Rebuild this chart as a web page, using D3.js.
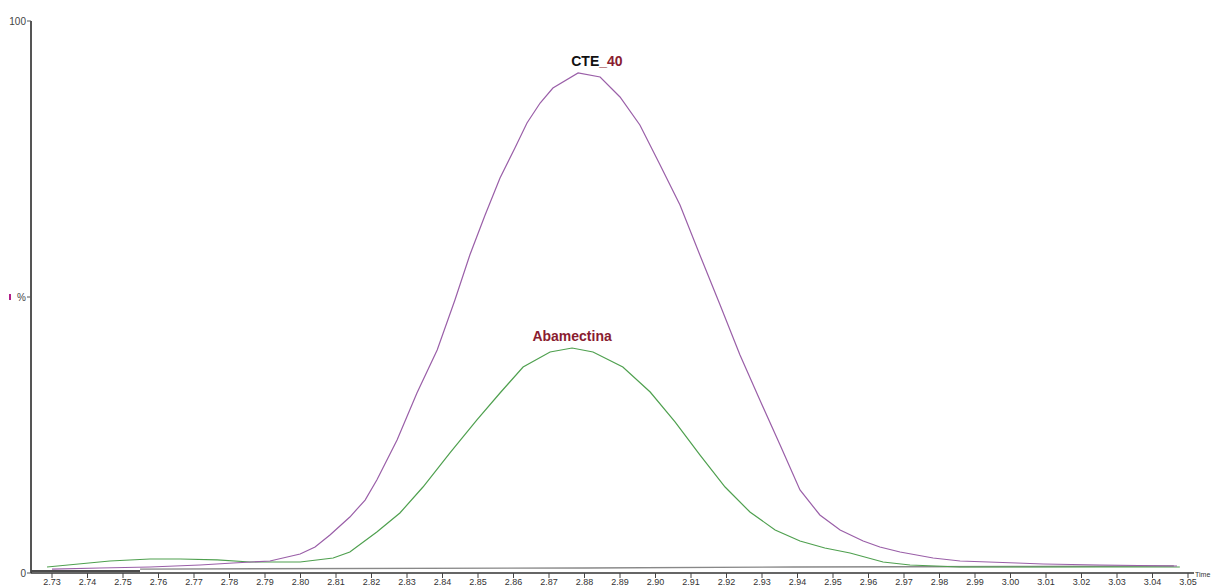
<!DOCTYPE html>
<html>
<head>
<meta charset="utf-8">
<script src="https://cdn.jsdelivr.net/npm/d3@7"></script>
<style>
  html, body { margin: 0; padding: 0; background: #fff; }
  svg { display: block; font-family: "Liberation Sans", Arial, sans-serif; }
</style>
</head>
<body>
<svg id="chart" width="1211" height="586"></svg>
<script>
// Retention time (min) and relative intensity (%) for each trace
const cteTime = [2.730, 2.7435, 2.7576, 2.7717, 2.7810, 2.7914, 2.7999, 2.8041, 2.8083, 2.8139,
  2.8182, 2.8215, 2.8272, 2.8328, 2.8385, 2.8435, 2.8477, 2.8520, 2.8562, 2.8604, 2.8638, 2.8675,
  2.8711, 2.8782, 2.8844, 2.8900, 2.8956, 2.9013, 2.9069, 2.9125, 2.9182, 2.9238, 2.9294, 2.9351,
  2.9407, 2.9463, 2.9520, 2.9585, 2.9632, 2.9689, 2.9782, 2.9858, 3.0018, 3.0092, 3.0252, 3.0469];
const cteValue = [0.72, 0.91, 1.09, 1.45, 1.81, 2.17, 3.44, 4.71, 6.88, 10.14,
  13.22, 16.85, 24.09, 32.61, 40.40, 49.46, 57.61, 64.86, 71.56, 76.99, 81.52, 85.14,
  87.86, 90.58, 89.86, 86.23, 81.16, 73.91, 66.67, 57.61, 48.55, 39.49, 31.34, 23.19,
  15.04, 10.51, 7.79, 5.80, 4.71, 3.80, 2.72, 2.17, 1.81, 1.63, 1.45, 1.27];

const abaTime = [2.7286, 2.7463, 2.7576, 2.7661, 2.7765, 2.7858, 2.7999, 2.8092, 2.8139, 2.8215,
  2.8280, 2.8345, 2.8421, 2.8497, 2.8562, 2.8627, 2.8703, 2.8765, 2.8824, 2.8908, 2.8985, 2.9055,
  2.9125, 2.9196, 2.9266, 2.9337, 2.9407, 2.9477, 2.9548, 2.9641, 2.9717, 2.9858, 3.0111, 3.0477];
const abaValue = [1.09, 2.17, 2.54, 2.54, 2.36, 1.99, 1.99, 2.72, 3.80, 7.43,
  10.87, 15.58, 21.74, 27.72, 32.61, 37.32, 40.04, 40.76, 40.04, 37.32, 32.79, 27.36,
  21.38, 15.58, 11.05, 7.79, 5.80, 4.53, 3.62, 1.99, 1.45, 1.09, 1.09, 1.09];

// Integration baseline drawn under the peaks
const baseStartTime = [2.7243, 2.7548];
const baseStartValue = [0.36, 0.36];
const baseTime = [2.7548, 2.8800, 2.9390, 3.0060, 3.0460];
const baseValue = [0.72, 0.91, 1.09, 1.18, 1.27];

const xTicks = d3.range(0, 33).map(i => +(2.73 + i * 0.01).toFixed(2));
const peakLabels = [
  { parts: [{ text: "CTE", color: "#111" }, { text: "_40", color: "#8a1c30" }], time: 2.8835, value: 91.9 },
  { parts: [{ text: "Abamectina", color: "#8a1c30" }], time: 2.8765, value: 42.0 }
];

const svg = d3.select("#chart");
const x = d3.scaleLinear().domain([2.73, 3.05]).range([52, 1188]);
const y = d3.scaleLinear().domain([0, 100]).range([573, 21]);

// Y axis: line with ticks at 100, 50 (%) and 0
svg.append("line").attr("x1", 31).attr("x2", 31).attr("y1", y(100)).attr("y2", y(0))
  .attr("stroke", "#555").attr("stroke-width", 2);
[[100, "100"], [50, "%"], [0, "0"]].forEach(([v, t]) => {
  svg.append("line").attr("x1", 27).attr("x2", 31).attr("y1", y(v)).attr("y2", y(v))
    .attr("stroke", "#555").attr("stroke-width", 1);
  svg.append("text").attr("x", 26).attr("y", y(v) + 3.5).attr("text-anchor", "end")
    .attr("font-size", 10).attr("fill", "#444").text(t);
});
svg.append("rect").attr("x", 9).attr("y", y(50) - 3).attr("width", 2).attr("height", 6).attr("fill", "#b0208a");

// X axis with ticks hanging below
const xAxis = svg.append("g").attr("transform", `translate(0,${y(0)})`);
xAxis.append("line").attr("x1", 31).attr("x2", 1194).attr("y1", 0).attr("y2", 0)
  .attr("stroke", "#333").attr("stroke-width", 1.5);
xAxis.selectAll("g.tick").data(xTicks).join("g").attr("class", "tick")
  .attr("transform", d => `translate(${x(d)},0)`)
  .each(function (d) {
    const g = d3.select(this);
    g.append("line").attr("y1", 0).attr("y2", 5).attr("stroke", "#444").attr("stroke-width", 1);
    g.append("text").attr("y", 12).attr("text-anchor", "middle").attr("font-size", 9)
      .attr("fill", "#333").text(d.toFixed(2));
  });
svg.append("text").attr("x", 1195).attr("y", y(0) + 4).attr("font-size", 7).attr("fill", "#333").text("Time");

// Baseline segments
const line = d3.line().x(d => x(d[0])).y(d => y(d[1]));
svg.append("path").datum(d3.zip(baseStartTime, baseStartValue)).attr("d", line)
  .attr("fill", "none").attr("stroke", "#111").attr("stroke-width", 1.3);
svg.append("path").datum(d3.zip(baseTime, baseValue)).attr("d", line)
  .attr("fill", "none").attr("stroke", "#888").attr("stroke-width", 1.3);

// Chromatogram traces
svg.append("path").datum(d3.zip(abaTime, abaValue)).attr("d", line)
  .attr("fill", "none").attr("stroke", "#4fa04f").attr("stroke-width", 1.2);
svg.append("path").datum(d3.zip(cteTime, cteValue)).attr("d", line)
  .attr("fill", "none").attr("stroke", "#9a5fa8").attr("stroke-width", 1.2);

// Peak labels
peakLabels.forEach(p => {
  const t = svg.append("text").attr("x", x(p.time)).attr("y", y(p.value))
    .attr("text-anchor", "middle").attr("font-size", 14).attr("font-weight", "bold");
  p.parts.forEach(s => t.append("tspan").attr("fill", s.color).text(s.text));
});
</script>
</body>
</html>
